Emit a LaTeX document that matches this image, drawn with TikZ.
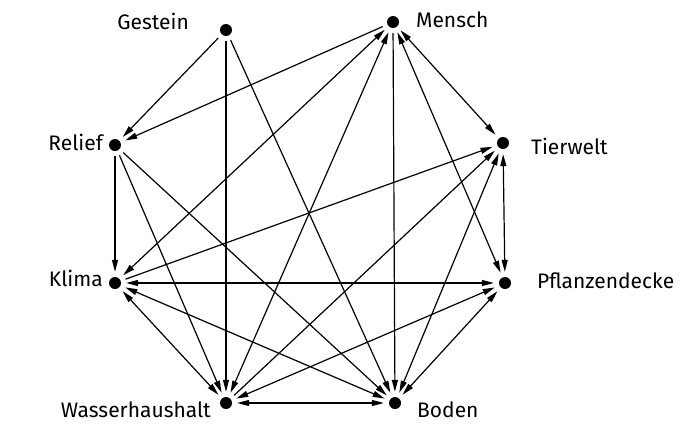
\documentclass[tikz,border=0pt]{standalone}
\usepackage{fontspec}
\setmainfont{Fira Sans}
\usetikzlibrary{arrows.meta}
\begin{document}
\begin{tikzpicture}[x=1pt,y=-1pt,
  vert/.style={circle,minimum size=22pt,inner sep=0pt},
  lbl/.style={font=\fontsize{21}{25}\selectfont,inner sep=0pt},
  edge/.style={line width=1.2pt},
  one/.style={edge,-{Triangle[length=12pt,width=6pt]}},
  two/.style={edge,{Triangle[length=12pt,width=6pt]}-{Triangle[length=12pt,width=6pt]}}
]
\useasboundingbox (0,0) rectangle (699,434);
\node[vert] (G) at (226,30) {};
\node[vert] (M) at (393,22) {};
\node[vert] (R) at (115,145) {};
\node[vert] (T) at (503,143) {};
\node[vert] (K) at (115,283) {};
\node[vert] (P) at (505,283) {};
\node[vert] (W) at (226,403) {};
\node[vert] (B) at (395,403) {};
\foreach \n in {G,M,R,T,K,P,W,B} \fill (\n) circle (6pt);

\node[lbl,anchor=base east] (lG) at (189,29) {Gestein};
\node[lbl,anchor=base west] (lM) at (416,27) {Mensch};
\node[lbl,anchor=base east] (lR) at (103,150) {Relief};
\node[lbl,anchor=base west] (lT) at (531,154) {Tierwelt};
\node[lbl,anchor=base east] (lK) at (103,286) {Klima};
\node[lbl,anchor=base west] (lP) at (537,288) {Pflanzendecke};
\node[lbl,anchor=base east] (lW) at (211,417) {Wasserhaushalt};
\node[lbl,anchor=base west] (lB) at (417,417) {Boden};

\draw[one] (G) -- (R);
\draw[one] (G) -- (W);
\draw[one] (G) -- (B);
\draw[one] (M) -- (R);
\draw[two] (M) -- (K);
\draw[two] (M) -- (W);
\draw[one] (M) -- (B);
\draw[two] (M) -- (P);
\draw[two] (M) -- (T);
\draw[one] (R) -- (K);
\draw[one] (R) -- (W);
\draw[one] (R) -- (B);
\draw[one] (K) -- (T);
\draw[two] (K) -- (P);
\draw[two] (K) -- (W);
\draw[two] (K) -- (B);
\draw[one] (W) -- (T);
\draw[two] (W) -- (P);
\draw[two] (W) -- (B);
\draw[two] (T) -- (P);
\draw[two] (B) -- (T);
\draw[two] (B) -- (P);
\end{tikzpicture}
\end{document}
